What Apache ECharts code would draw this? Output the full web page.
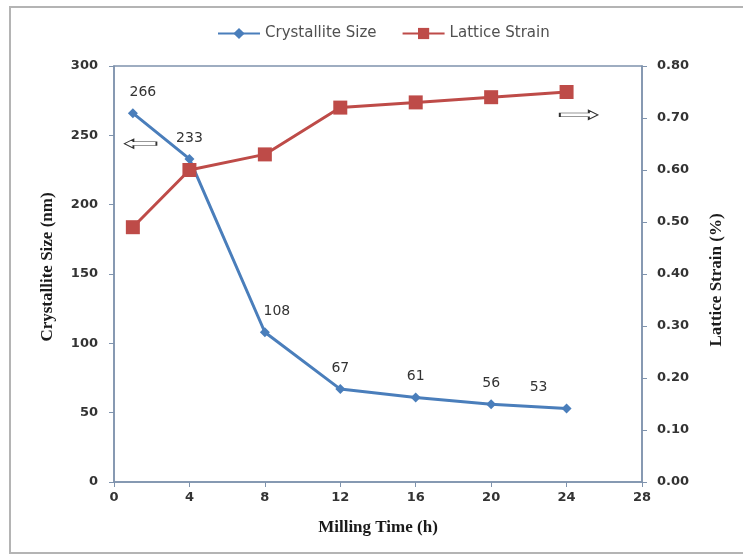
<!DOCTYPE html>
<html>
<head>
<meta charset="utf-8">
<script src="https://cdn.jsdelivr.net/npm/echarts@6/dist/echarts.min.js"></script>
<style>
  html, body { margin: 0; padding: 0; background: #ffffff; }
  #chart { width: 743px; height: 556px; }
</style>
</head>
<body>
<div id="chart"></div>
<script>
// Milling time (h) and the two measured quantities
var millingTime = [1, 4, 8, 12, 16, 20, 24];
var crystalliteSize = [266, 233, 108, 67, 61, 56, 53];   // nm
var latticeStrain = [0.49, 0.60, 0.63, 0.72, 0.73, 0.74, 0.75]; // %

// Nudges for the value labels of the size curve (pixels)
var sizeLabelOffsets = [[10, 0], [0, 0], [12, 0], [0, 0], [0, 0], [0, 0], [-28, 0]];

var axisColor = '#7f93ad';
var tickFont = { fontFamily: 'DejaVu Sans', fontWeight: 'bold', fontSize: 13, color: '#333333' };
var titleFont = { fontFamily: 'Liberation Serif', fontWeight: 'bold', fontSize: 17, color: '#1a1a1a' };

var sizeData = millingTime.map(function (t, i) {
  return {
    value: [t, crystalliteSize[i]],
    label: { offset: sizeLabelOffsets[i] }
  };
});
var strainData = millingTime.map(function (t, i) { return [t, latticeStrain[i]]; });

var chart = echarts.init(document.getElementById('chart'), null, { renderer: 'canvas' });
chart.setOption({
  animation: false,
  backgroundColor: '#ffffff',
  graphic: [{
    type: 'rect',
    shape: { x: 10, y: 7, width: 760, height: 546 },
    style: { fill: 'none', stroke: '#b4b4b4', lineWidth: 2 },
    silent: true,
    z: -1
  }],
  legend: {
    left: 212,
    top: 21,
    itemWidth: 42,
    itemHeight: 14,
    itemGap: 25,
    textStyle: { fontFamily: 'DejaVu Sans', fontSize: 15, color: '#505050' },
    data: ['Crystallite Size', 'Lattice Strain']
  },
  grid: {
    left: 114, right: 101, top: 66, bottom: 74,
    show: true, borderColor: axisColor, borderWidth: 1.5, backgroundColor: 'transparent'
  },
  xAxis: {
    type: 'value', min: 0, max: 28, interval: 4,
    name: 'Milling Time (h)', nameLocation: 'middle', nameGap: 37,
    nameTextStyle: titleFont,
    axisLine: { show: true, lineStyle: { color: axisColor, width: 1.5 } },
    axisTick: { show: true, length: 5, lineStyle: { color: axisColor } },
    axisLabel: Object.assign({ margin: 9 }, tickFont),
    splitLine: { show: false }
  },
  yAxis: [{
    type: 'value', min: 0, max: 300, interval: 50, position: 'left',
    name: 'Crystallite Size (nm)', nameLocation: 'middle', nameGap: 58,
    nameTextStyle: Object.assign({ padding: [0, 0, 0, 14] }, titleFont),
    axisLine: { show: true, lineStyle: { color: axisColor, width: 1.5 } },
    axisTick: { show: true, length: 5, lineStyle: { color: axisColor } },
    axisLabel: Object.assign({ margin: 16 }, tickFont),
    splitLine: { show: false }
  }, {
    type: 'value', min: 0, max: 0.8, interval: 0.1, position: 'right',
    name: 'Lattice Strain (%)', nameLocation: 'middle', nameGap: 66,
    nameTextStyle: Object.assign({ padding: [0, 12, 0, 0] }, titleFont),
    axisLine: { show: true, lineStyle: { color: axisColor, width: 1.5 } },
    axisTick: { show: true, length: 5, lineStyle: { color: axisColor } },
    axisLabel: Object.assign({ margin: 15, formatter: function (v) { return v.toFixed(2); } }, tickFont),
    splitLine: { show: false }
  }],
  series: [{
    name: 'Crystallite Size',
    type: 'line',
    yAxisIndex: 0,
    data: sizeData,
    symbol: 'diamond',
    symbolSize: 10,
    lineStyle: { color: '#4a7ebb', width: 3 },
    itemStyle: { color: '#4a7ebb' },
    label: {
      show: true, position: 'top', distance: 9,
      fontFamily: 'DejaVu Sans', fontSize: 14, color: '#333333',
      formatter: function (p) { return p.value[1]; }
    },
    markPoint: {
      symbol: 'path://M0,5L9,0L9,3L32,3L32,7L9,7L9,10Z',
      symbolSize: [32, 9],
      symbolKeepAspect: false,
      itemStyle: { color: '#ffffff', borderColor: '#333333', borderWidth: 1 },
      label: { show: false },
      data: [{ coord: [1.4, 244] }]
    },
    z: 3
  }, {
    name: 'Lattice Strain',
    type: 'line',
    yAxisIndex: 1,
    data: strainData,
    symbol: 'rect',
    symbolSize: 14,
    lineStyle: { color: '#be4b48', width: 3 },
    itemStyle: { color: '#be4b48' },
    markPoint: {
      symbol: 'path://M38,5L29,0L29,3L0,3L0,7L29,7L29,10Z',
      symbolSize: [38, 9],
      symbolKeepAspect: false,
      itemStyle: { color: '#ffffff', borderColor: '#333333', borderWidth: 1 },
      label: { show: false },
      data: [{ coord: [24.65, 0.706] }]
    },
    z: 4
  }]
});
</script>
</body>
</html>
